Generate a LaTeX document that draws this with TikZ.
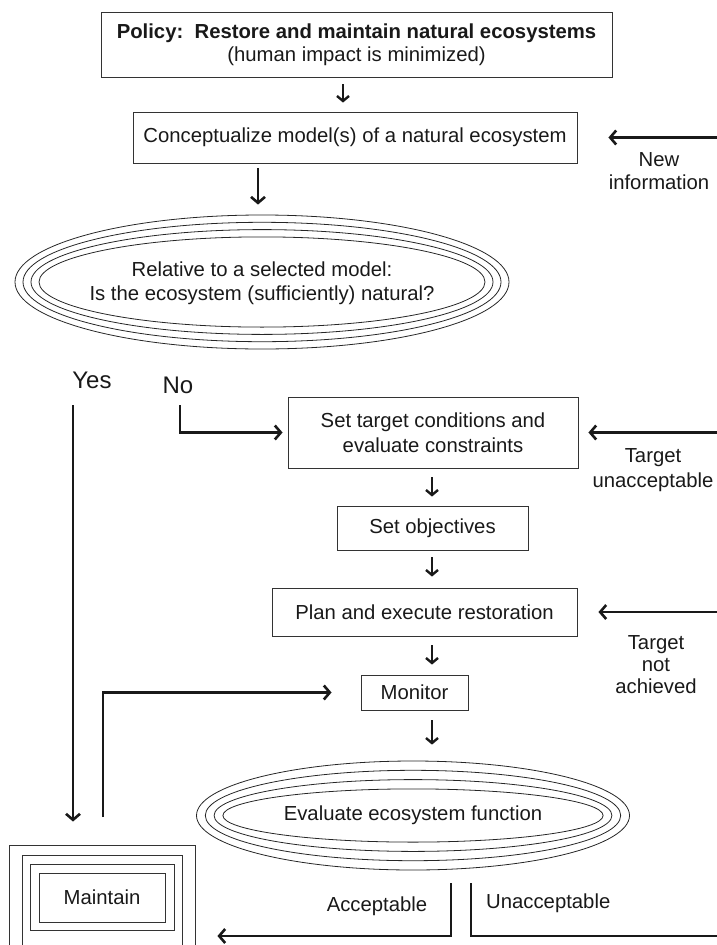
\documentclass[tikz,border=0pt]{standalone}
\usepackage{fontspec}
\setmainfont{Liberation Sans}
\usetikzlibrary{arrows.meta,shapes.geometric}
\begin{document}
\begin{tikzpicture}[x=1pt,y=-1pt,
  every node/.style={font=\fontsize{20.3}{23}\selectfont, text=black!90, inner sep=0pt},
  box/.style={draw=black!80, line width=0.9pt, rectangle},
  ring/.style={draw=black!85, line width=0.8pt},
  flow/.style={line width=2.6pt, draw=black!90, line join=miter,
    -{Straight Barb[length=6pt,width=14pt]}},
  shortflow/.style={line width=2.4pt, draw=black!90,
    -{Straight Barb[length=5pt,width=12pt]}},
  plainline/.style={line width=2.6pt, draw=black!90, line join=miter},
  bigword/.style={font=\fontsize{24}{28}\selectfont}]
\useasboundingbox (0,0) rectangle (717,945);
\clip (0,0) rectangle (717,945);

% reference columns and anchors
\coordinate (R) at (717,0);
\coordinate (c1) at (343,0);
\coordinate (c2) at (258,0);
\coordinate (col) at (432,0);

% boxes
\node[box, minimum width=511pt, minimum height=65pt, align=center] (policy) at (356.5,44.5)
  {\textbf{Policy:\ \ Restore and maintain natural ecosystems}\\(human impact is minimized)};
\node[box, minimum width=444pt, minimum height=51pt] (concept) at (355,137.5)
  {Conceptualize model(s) of a natural ecosystem};

% decision ellipse with concentric rings
\node[ellipse, ring, minimum width=494pt, minimum height=134pt] (q) at (262,282) {};
\foreach \i in {1,2,3}
  \draw[ring] (q.center) ellipse [x radius={247-8*\i}, y radius={67-7.3*\i}];
\node[align=center] (qtext) at (262,283)
  {Relative to a selected model:\\[1pt]Is the ecosystem (sufficiently) natural?};

\node[bigword] (yes) at (92,380) {Yes};
\node[bigword] (no) at (178,385) {No};
\coordinate (yesS) at (73,405);
\coordinate (noS) at (180,405);

\node[box, minimum width=290pt, minimum height=71pt, align=center] (target) at (433,432.5)
  {Set target conditions and\\[2pt]evaluate constraints};
\node[box, minimum width=191pt, minimum height=44pt] (obj) at (432.5,528) {Set objectives};
\node[box, minimum width=305pt, minimum height=48pt] (plan) at (424.5,612)
  {Plan and execute restoration};
\node[box, minimum width=107pt, minimum height=35pt] (mon) at (414.5,692.5) {Monitor};

% evaluation ellipse with concentric rings
\node[ellipse, ring, minimum width=433pt, minimum height=109pt] (eval) at (413,815.5) {};
\foreach \i in {1,2,3}
  \draw[ring] (eval.center) ellipse [x radius={216.5-8.8*\i}, y radius={54.5-9.3*\i}];
\node (evaltext) at (413,815.5) {Evaluate ecosystem function};

% nested maintain frames (outer two run past the lower edge)
\node[box, minimum width=186pt, minimum height=130pt] (mframe) at (102,910) {};
\draw[box] (22,855) rectangle (182,960);
\draw[box] (30,864) rectangle (174,930);
\node[box, minimum width=126pt, minimum height=49pt] (maint) at (102,897.5) {Maintain};

% side labels
\node[align=center] (newinfo) at (659,171) {New\\information};
\node[align=center, font=\fontsize{20.3}{25}\selectfont] (tunacc) at (653,470.5)
  {Target\\unacceptable};
\node[align=center, font=\fontsize{20.3}{22}\selectfont] (tnot) at (656,665)
  {Target\\not\\achieved};
\node (acc) at (377,906) {Acceptable};
\node[anchor=west] (unacc) at (486,903) {Unacceptable};

% main flow
\draw[shortflow, shorten <=7pt, shorten >=9pt] (policy.south -| c1) -- (concept.north -| c1);
\draw[flow, shorten <=5pt, shorten >=10pt] (concept.south -| c2) -- (q.north -| c2);
\draw[shortflow, shorten <=9pt, shorten >=9pt] (target.south -| col) -- (obj.north -| col);
\draw[shortflow, shorten <=7pt, shorten >=11pt] (obj.south -| col) -- (plan.north -| col);
\draw[shortflow, shorten <=9pt, shorten >=10pt] (plan.south -| col) -- (mon.north -| col);
\draw[shortflow, shorten <=10pt, shorten >=16pt] (mon.south -| col) -- (eval.north -| col);

% decision branches
\draw[flow, shorten >=23pt] (yesS) -- (yesS |- mframe.north);
\draw[flow, shorten >=5pt] (noS) |- (target.west);

% feedback inputs from the right
\draw[flow, shorten >=31pt] (concept.east -| R) -- (concept.east);
\draw[flow, shorten >=10pt] (target.east -| R) -- (target.east);
\draw[flow, shorten >=21pt] (plan.east -| R) -- (plan.east);

% maintain back to monitoring
\coordinate (fbS) at (103,817);
\draw[flow, shorten >=29pt] (fbS) |- (mon.west);

% evaluation outcomes
\coordinate (accS) at (451,883);
\coordinate (accC) at (451,936);
\draw[flow, shorten >=22pt] (accS) -- (accC) -- (accC -| mframe.east);
\coordinate (unS) at (471,883);
\draw[plainline] (unS) |- (R |- accC);
\end{tikzpicture}
\end{document}
